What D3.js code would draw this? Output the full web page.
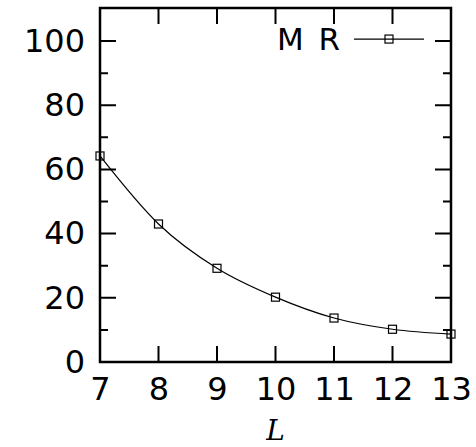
<!DOCTYPE html>
<html>
<head>
<meta charset="utf-8">
<script src="https://cdn.jsdelivr.net/npm/d3@7"></script>
<style>
  body { margin: 0; background: #fff; }
  text { font-family: "DejaVu Sans", sans-serif; }
</style>
</head>
<body>
<div id="graph"></div>
<script>
// data
var Ls = [7, 8, 9, 10, 11, 12, 13];
var mr = [64.2, 43.0, 29.2, 20.2, 13.7, 10.2, 8.7];
var yTicks = [0, 20, 40, 60, 80, 100];
var yMinor = [10, 30, 50, 70, 90];
var seriesName = "MR";

var margin = {top: 8, right: 25, bottom: 85, left: 100},
    width = 476 - margin.left - margin.right,
    height = 447 - margin.top - margin.bottom;

var svg = d3.select("#graph")
  .append("svg")
    .attr("width", width + margin.left + margin.right)
    .attr("height", height + margin.top + margin.bottom)
  .append("g")
    .attr("transform", "translate(" + margin.left + "," + margin.top + ")");

var x = d3.scaleLinear().domain([7, 13]).range([0, width]);
var y = d3.scaleLinear().domain([0, 110.3]).range([height, 0]);

// tick labels via d3 axes
var yAx = svg.append("g")
  .call(d3.axisLeft(y).tickValues(yTicks).tickSize(0).tickPadding(15));
var xAx = svg.append("g")
  .attr("transform", "translate(0," + height + ")")
  .call(d3.axisBottom(x).tickValues(Ls).tickFormat(d3.format("d")).tickSize(0).tickPadding(15));
[yAx, xAx].forEach(function(g) {
  g.select(".domain").remove();
  g.selectAll(".tick line").remove();
  g.selectAll(".tick text")
    .attr("fill", "#000")
    .style("font-size", "32px")
    .style("font-family", "DejaVu Sans, sans-serif");
});
xAx.selectAll(".tick text").attr("dy", "0.71em");

// inward tick marks, built as one path from the scales
var tickPath = d3.path();
yTicks.forEach(function(d) {
  tickPath.moveTo(0, y(d)); tickPath.lineTo(16, y(d));
  tickPath.moveTo(width, y(d)); tickPath.lineTo(width - 16, y(d));
});
yMinor.forEach(function(d) {
  tickPath.moveTo(0, y(d)); tickPath.lineTo(8, y(d));
  tickPath.moveTo(width, y(d)); tickPath.lineTo(width - 8, y(d));
});
Ls.forEach(function(d) {
  tickPath.moveTo(x(d), height); tickPath.lineTo(x(d), height - 16);
  tickPath.moveTo(x(d), 0); tickPath.lineTo(x(d), 16);
});
svg.append("path")
  .attr("d", tickPath.toString())
  .attr("fill", "none")
  .attr("stroke", "#000")
  .attr("stroke-width", 2);

// frame
svg.append("rect")
  .attr("width", width)
  .attr("height", height)
  .attr("fill", "none")
  .attr("stroke", "#000")
  .attr("stroke-width", 2.5);

// x label
svg.append("text")
  .attr("x", x(10))
  .attr("y", height + 78)
  .attr("text-anchor", "middle")
  .style("font-family", "DejaVu Serif, serif")
  .style("font-style", "italic")
  .style("font-size", "28px")
  .text("L");

// the curve
var line = d3.line()
  .x(function(d, i) { return x(Ls[i]); })
  .y(function(d) { return y(d); })
  .curve(d3.curveMonotoneX);

svg.append("path")
  .datum(mr)
  .attr("d", line)
  .attr("fill", "none")
  .attr("stroke", "#000")
  .attr("stroke-width", 1.2);

// square markers
svg.append("g")
  .selectAll("rect")
  .data(mr)
  .enter()
  .append("rect")
    .attr("x", function(d, i) { return x(Ls[i]) - 4; })
    .attr("y", function(d) { return y(d) - 4; })
    .attr("width", 8)
    .attr("height", 8)
    .attr("fill", "none")
    .attr("stroke", "#000")
    .attr("stroke-width", 1.2);

// legend
var leg = svg.append("g").attr("transform", "translate(0," + (y(100) - 2) + ")");
leg.append("text")
  .attr("x", 177)
  .attr("y", 0)
  .attr("dy", "0.36em")
  .attr("textLength", 63)
  .attr("lengthAdjust", "spacing")
  .style("font-size", "31px")
  .text(seriesName);
leg.append("line")
  .attr("x1", 254).attr("x2", 324)
  .attr("stroke", "#000").attr("stroke-width", 1.2);
leg.append("rect")
  .attr("x", 285).attr("y", -4)
  .attr("width", 8).attr("height", 8)
  .attr("fill", "none").attr("stroke", "#000").attr("stroke-width", 1.2);
</script>
</body>
</html>
